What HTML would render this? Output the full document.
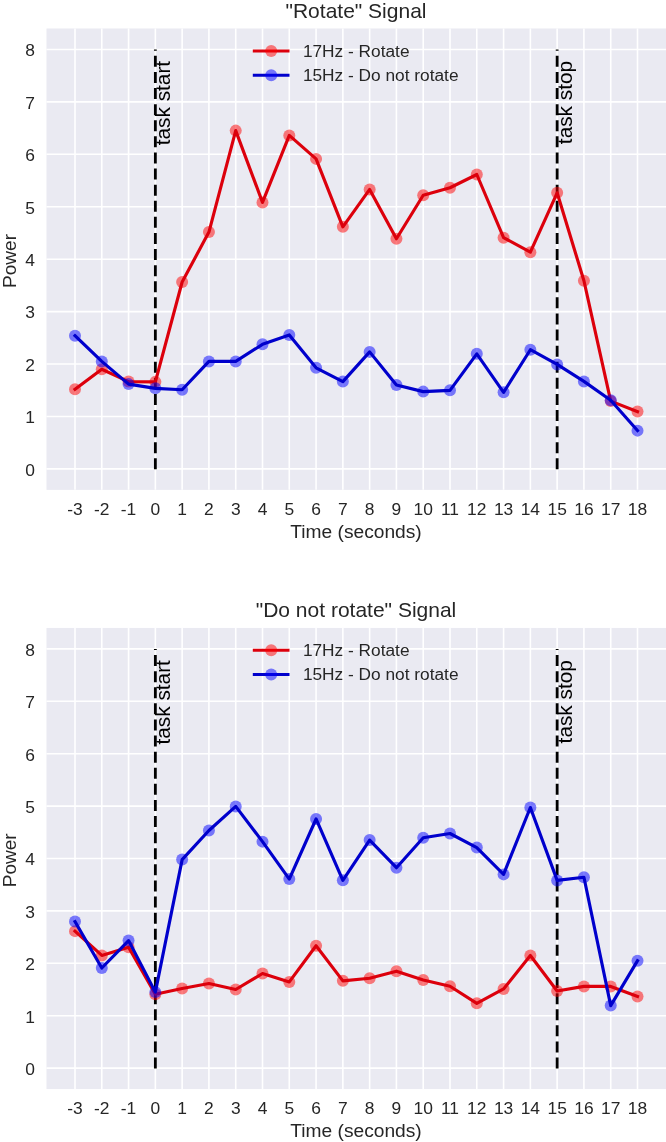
<!DOCTYPE html>
<html><head><meta charset="utf-8"><title>Rotate Signal</title>
<style>html,body{margin:0;padding:0;background:#fff;width:666px;height:1142px;overflow:hidden}</style>
</head><body>
<svg width="666" height="1142" viewBox="0 0 666 1142" style="display:block;will-change:transform">
<rect x="0" y="0" width="666" height="1142" fill="#ffffff"/>
<g>
<rect x="46.5" y="28.49" width="619.5" height="461.38" fill="#eaeaf2"/>
<line x1="75.00" y1="28.49" x2="75.00" y2="489.87" stroke="#fff" stroke-width="1.6"/>
<line x1="101.79" y1="28.49" x2="101.79" y2="489.87" stroke="#fff" stroke-width="1.6"/>
<line x1="128.57" y1="28.49" x2="128.57" y2="489.87" stroke="#fff" stroke-width="1.6"/>
<line x1="155.36" y1="28.49" x2="155.36" y2="489.87" stroke="#fff" stroke-width="1.6"/>
<line x1="182.14" y1="28.49" x2="182.14" y2="489.87" stroke="#fff" stroke-width="1.6"/>
<line x1="208.93" y1="28.49" x2="208.93" y2="489.87" stroke="#fff" stroke-width="1.6"/>
<line x1="235.72" y1="28.49" x2="235.72" y2="489.87" stroke="#fff" stroke-width="1.6"/>
<line x1="262.50" y1="28.49" x2="262.50" y2="489.87" stroke="#fff" stroke-width="1.6"/>
<line x1="289.29" y1="28.49" x2="289.29" y2="489.87" stroke="#fff" stroke-width="1.6"/>
<line x1="316.07" y1="28.49" x2="316.07" y2="489.87" stroke="#fff" stroke-width="1.6"/>
<line x1="342.86" y1="28.49" x2="342.86" y2="489.87" stroke="#fff" stroke-width="1.6"/>
<line x1="369.65" y1="28.49" x2="369.65" y2="489.87" stroke="#fff" stroke-width="1.6"/>
<line x1="396.43" y1="28.49" x2="396.43" y2="489.87" stroke="#fff" stroke-width="1.6"/>
<line x1="423.22" y1="28.49" x2="423.22" y2="489.87" stroke="#fff" stroke-width="1.6"/>
<line x1="450.00" y1="28.49" x2="450.00" y2="489.87" stroke="#fff" stroke-width="1.6"/>
<line x1="476.79" y1="28.49" x2="476.79" y2="489.87" stroke="#fff" stroke-width="1.6"/>
<line x1="503.58" y1="28.49" x2="503.58" y2="489.87" stroke="#fff" stroke-width="1.6"/>
<line x1="530.36" y1="28.49" x2="530.36" y2="489.87" stroke="#fff" stroke-width="1.6"/>
<line x1="557.15" y1="28.49" x2="557.15" y2="489.87" stroke="#fff" stroke-width="1.6"/>
<line x1="583.93" y1="28.49" x2="583.93" y2="489.87" stroke="#fff" stroke-width="1.6"/>
<line x1="610.72" y1="28.49" x2="610.72" y2="489.87" stroke="#fff" stroke-width="1.6"/>
<line x1="637.51" y1="28.49" x2="637.51" y2="489.87" stroke="#fff" stroke-width="1.6"/>
<line x1="46.5" y1="468.90" x2="666" y2="468.90" stroke="#fff" stroke-width="1.6"/>
<line x1="46.5" y1="416.47" x2="666" y2="416.47" stroke="#fff" stroke-width="1.6"/>
<line x1="46.5" y1="364.04" x2="666" y2="364.04" stroke="#fff" stroke-width="1.6"/>
<line x1="46.5" y1="311.61" x2="666" y2="311.61" stroke="#fff" stroke-width="1.6"/>
<line x1="46.5" y1="259.18" x2="666" y2="259.18" stroke="#fff" stroke-width="1.6"/>
<line x1="46.5" y1="206.75" x2="666" y2="206.75" stroke="#fff" stroke-width="1.6"/>
<line x1="46.5" y1="154.32" x2="666" y2="154.32" stroke="#fff" stroke-width="1.6"/>
<line x1="46.5" y1="101.89" x2="666" y2="101.89" stroke="#fff" stroke-width="1.6"/>
<line x1="46.5" y1="49.46" x2="666" y2="49.46" stroke="#fff" stroke-width="1.6"/>
<line x1="155.36" y1="469.35" x2="155.36" y2="49.46" stroke="#000" stroke-width="2.8" stroke-dasharray="11 5.1"/>
<line x1="557.15" y1="469.35" x2="557.15" y2="49.46" stroke="#000" stroke-width="2.8" stroke-dasharray="11 5.1"/>
<circle cx="75.00" cy="389.21" r="6.0" fill="#ff0000" fill-opacity="0.5"/>
<circle cx="101.79" cy="369.28" r="6.0" fill="#ff0000" fill-opacity="0.5"/>
<circle cx="128.57" cy="381.60" r="6.0" fill="#ff0000" fill-opacity="0.5"/>
<circle cx="155.36" cy="381.87" r="6.0" fill="#ff0000" fill-opacity="0.5"/>
<circle cx="182.14" cy="281.99" r="6.0" fill="#ff0000" fill-opacity="0.5"/>
<circle cx="208.93" cy="232.07" r="6.0" fill="#ff0000" fill-opacity="0.5"/>
<circle cx="235.72" cy="130.62" r="6.0" fill="#ff0000" fill-opacity="0.5"/>
<circle cx="262.50" cy="202.40" r="6.0" fill="#ff0000" fill-opacity="0.5"/>
<circle cx="289.29" cy="135.39" r="6.0" fill="#ff0000" fill-opacity="0.5"/>
<circle cx="316.07" cy="158.88" r="6.0" fill="#ff0000" fill-opacity="0.5"/>
<circle cx="342.86" cy="226.83" r="6.0" fill="#ff0000" fill-opacity="0.5"/>
<circle cx="369.65" cy="189.45" r="6.0" fill="#ff0000" fill-opacity="0.5"/>
<circle cx="396.43" cy="238.73" r="6.0" fill="#ff0000" fill-opacity="0.5"/>
<circle cx="423.22" cy="195.22" r="6.0" fill="#ff0000" fill-opacity="0.5"/>
<circle cx="450.00" cy="187.72" r="6.0" fill="#ff0000" fill-opacity="0.5"/>
<circle cx="476.79" cy="174.51" r="6.0" fill="#ff0000" fill-opacity="0.5"/>
<circle cx="503.58" cy="237.68" r="6.0" fill="#ff0000" fill-opacity="0.5"/>
<circle cx="530.36" cy="252.21" r="6.0" fill="#ff0000" fill-opacity="0.5"/>
<circle cx="557.15" cy="192.80" r="6.0" fill="#ff0000" fill-opacity="0.5"/>
<circle cx="583.93" cy="280.78" r="6.0" fill="#ff0000" fill-opacity="0.5"/>
<circle cx="610.72" cy="401.11" r="6.0" fill="#ff0000" fill-opacity="0.5"/>
<circle cx="637.51" cy="411.59" r="6.0" fill="#ff0000" fill-opacity="0.5"/>
<path d="M75.00,389.21 L101.79,369.28 L128.57,381.60 L155.36,381.87 L182.14,281.99 L208.93,232.07 L235.72,130.62 L262.50,202.40 L289.29,135.39 L316.07,158.88 L342.86,226.83 L369.65,189.45 L396.43,238.73 L423.22,195.22 L450.00,187.72 L476.79,174.51 L503.58,237.68 L530.36,252.21 L557.15,192.80 L583.93,280.78 L610.72,401.11 L637.51,411.59" fill="none" stroke="#dc000c" stroke-width="3.15" stroke-linejoin="round" stroke-linecap="square"/>
<circle cx="75.00" cy="335.73" r="6.0" fill="#0000ff" fill-opacity="0.5"/>
<circle cx="101.79" cy="361.42" r="6.0" fill="#0000ff" fill-opacity="0.5"/>
<circle cx="128.57" cy="384.12" r="6.0" fill="#0000ff" fill-opacity="0.5"/>
<circle cx="155.36" cy="388.32" r="6.0" fill="#0000ff" fill-opacity="0.5"/>
<circle cx="182.14" cy="389.78" r="6.0" fill="#0000ff" fill-opacity="0.5"/>
<circle cx="208.93" cy="361.42" r="6.0" fill="#0000ff" fill-opacity="0.5"/>
<circle cx="235.72" cy="361.42" r="6.0" fill="#0000ff" fill-opacity="0.5"/>
<circle cx="262.50" cy="344.33" r="6.0" fill="#0000ff" fill-opacity="0.5"/>
<circle cx="289.29" cy="334.89" r="6.0" fill="#0000ff" fill-opacity="0.5"/>
<circle cx="316.07" cy="367.81" r="6.0" fill="#0000ff" fill-opacity="0.5"/>
<circle cx="342.86" cy="381.60" r="6.0" fill="#0000ff" fill-opacity="0.5"/>
<circle cx="369.65" cy="351.88" r="6.0" fill="#0000ff" fill-opacity="0.5"/>
<circle cx="396.43" cy="384.91" r="6.0" fill="#0000ff" fill-opacity="0.5"/>
<circle cx="423.22" cy="391.62" r="6.0" fill="#0000ff" fill-opacity="0.5"/>
<circle cx="450.00" cy="390.31" r="6.0" fill="#0000ff" fill-opacity="0.5"/>
<circle cx="476.79" cy="353.82" r="6.0" fill="#0000ff" fill-opacity="0.5"/>
<circle cx="503.58" cy="392.35" r="6.0" fill="#0000ff" fill-opacity="0.5"/>
<circle cx="530.36" cy="349.73" r="6.0" fill="#0000ff" fill-opacity="0.5"/>
<circle cx="557.15" cy="364.41" r="6.0" fill="#0000ff" fill-opacity="0.5"/>
<circle cx="583.93" cy="381.39" r="6.0" fill="#0000ff" fill-opacity="0.5"/>
<circle cx="610.72" cy="400.32" r="6.0" fill="#0000ff" fill-opacity="0.5"/>
<circle cx="637.51" cy="430.63" r="6.0" fill="#0000ff" fill-opacity="0.5"/>
<path d="M75.00,335.73 L101.79,361.42 L128.57,384.12 L155.36,388.32 L182.14,389.78 L208.93,361.42 L235.72,361.42 L262.50,344.33 L289.29,334.89 L316.07,367.81 L342.86,381.60 L369.65,351.88 L396.43,384.91 L423.22,391.62 L450.00,390.31 L476.79,353.82 L503.58,392.35 L530.36,349.73 L557.15,364.41 L583.93,381.39 L610.72,400.32 L637.51,430.63" fill="none" stroke="#0000cc" stroke-width="3.15" stroke-linejoin="round" stroke-linecap="square"/>
<text transform="translate(170.36,60.90) rotate(-90)" text-anchor="end" font-family='"Liberation Sans", sans-serif' font-size="20.8" fill="#000">task start</text>
<text transform="translate(572.15,60.90) rotate(-90)" text-anchor="end" font-family='"Liberation Sans", sans-serif' font-size="20.8" fill="#000">task stop</text>
<line x1="252.8" y1="51.00" x2="289.5" y2="51.00" stroke="#dc000c" stroke-width="3"/>
<circle cx="271.2" cy="51.00" r="6.0" fill="#ff0000" fill-opacity="0.5"/>
<text x="302.9" y="56.90" font-family='"Liberation Sans", sans-serif' font-size="17.3" fill="#262626">17Hz - Rotate</text>
<line x1="252.8" y1="75.30" x2="289.5" y2="75.30" stroke="#0000cc" stroke-width="3"/>
<circle cx="271.2" cy="75.30" r="6.0" fill="#0000ff" fill-opacity="0.5"/>
<text x="302.9" y="81.20" font-family='"Liberation Sans", sans-serif' font-size="17.3" fill="#262626">15Hz - Do not rotate</text>
<text x="75.00" y="514.60" text-anchor="middle" font-family='"Liberation Sans", sans-serif' font-size="17.4" fill="#262626">-3</text>
<text x="101.79" y="514.60" text-anchor="middle" font-family='"Liberation Sans", sans-serif' font-size="17.4" fill="#262626">-2</text>
<text x="128.57" y="514.60" text-anchor="middle" font-family='"Liberation Sans", sans-serif' font-size="17.4" fill="#262626">-1</text>
<text x="155.36" y="514.60" text-anchor="middle" font-family='"Liberation Sans", sans-serif' font-size="17.4" fill="#262626">0</text>
<text x="182.14" y="514.60" text-anchor="middle" font-family='"Liberation Sans", sans-serif' font-size="17.4" fill="#262626">1</text>
<text x="208.93" y="514.60" text-anchor="middle" font-family='"Liberation Sans", sans-serif' font-size="17.4" fill="#262626">2</text>
<text x="235.72" y="514.60" text-anchor="middle" font-family='"Liberation Sans", sans-serif' font-size="17.4" fill="#262626">3</text>
<text x="262.50" y="514.60" text-anchor="middle" font-family='"Liberation Sans", sans-serif' font-size="17.4" fill="#262626">4</text>
<text x="289.29" y="514.60" text-anchor="middle" font-family='"Liberation Sans", sans-serif' font-size="17.4" fill="#262626">5</text>
<text x="316.07" y="514.60" text-anchor="middle" font-family='"Liberation Sans", sans-serif' font-size="17.4" fill="#262626">6</text>
<text x="342.86" y="514.60" text-anchor="middle" font-family='"Liberation Sans", sans-serif' font-size="17.4" fill="#262626">7</text>
<text x="369.65" y="514.60" text-anchor="middle" font-family='"Liberation Sans", sans-serif' font-size="17.4" fill="#262626">8</text>
<text x="396.43" y="514.60" text-anchor="middle" font-family='"Liberation Sans", sans-serif' font-size="17.4" fill="#262626">9</text>
<text x="423.22" y="514.60" text-anchor="middle" font-family='"Liberation Sans", sans-serif' font-size="17.4" fill="#262626">10</text>
<text x="450.00" y="514.60" text-anchor="middle" font-family='"Liberation Sans", sans-serif' font-size="17.4" fill="#262626">11</text>
<text x="476.79" y="514.60" text-anchor="middle" font-family='"Liberation Sans", sans-serif' font-size="17.4" fill="#262626">12</text>
<text x="503.58" y="514.60" text-anchor="middle" font-family='"Liberation Sans", sans-serif' font-size="17.4" fill="#262626">13</text>
<text x="530.36" y="514.60" text-anchor="middle" font-family='"Liberation Sans", sans-serif' font-size="17.4" fill="#262626">14</text>
<text x="557.15" y="514.60" text-anchor="middle" font-family='"Liberation Sans", sans-serif' font-size="17.4" fill="#262626">15</text>
<text x="583.93" y="514.60" text-anchor="middle" font-family='"Liberation Sans", sans-serif' font-size="17.4" fill="#262626">16</text>
<text x="610.72" y="514.60" text-anchor="middle" font-family='"Liberation Sans", sans-serif' font-size="17.4" fill="#262626">17</text>
<text x="637.51" y="514.60" text-anchor="middle" font-family='"Liberation Sans", sans-serif' font-size="17.4" fill="#262626">18</text>
<text x="35.0" y="475.70" text-anchor="end" font-family='"Liberation Sans", sans-serif' font-size="17.4" fill="#262626">0</text>
<text x="35.0" y="423.27" text-anchor="end" font-family='"Liberation Sans", sans-serif' font-size="17.4" fill="#262626">1</text>
<text x="35.0" y="370.84" text-anchor="end" font-family='"Liberation Sans", sans-serif' font-size="17.4" fill="#262626">2</text>
<text x="35.0" y="318.41" text-anchor="end" font-family='"Liberation Sans", sans-serif' font-size="17.4" fill="#262626">3</text>
<text x="35.0" y="265.98" text-anchor="end" font-family='"Liberation Sans", sans-serif' font-size="17.4" fill="#262626">4</text>
<text x="35.0" y="213.55" text-anchor="end" font-family='"Liberation Sans", sans-serif' font-size="17.4" fill="#262626">5</text>
<text x="35.0" y="161.12" text-anchor="end" font-family='"Liberation Sans", sans-serif' font-size="17.4" fill="#262626">6</text>
<text x="35.0" y="108.69" text-anchor="end" font-family='"Liberation Sans", sans-serif' font-size="17.4" fill="#262626">7</text>
<text x="35.0" y="56.26" text-anchor="end" font-family='"Liberation Sans", sans-serif' font-size="17.4" fill="#262626">8</text>
<text x="356" y="538.20" text-anchor="middle" font-family='"Liberation Sans", sans-serif' font-size="19.2" fill="#262626">Time (seconds)</text>
<text transform="translate(15.6,260.98) rotate(-90)" text-anchor="middle" font-family='"Liberation Sans", sans-serif' font-size="19" fill="#262626">Power</text>
<text x="356" y="17.80" text-anchor="middle" font-family='"Liberation Sans", sans-serif' font-size="21" fill="#262626">"Rotate" Signal</text>
</g>
<g>
<rect x="46.5" y="627.94" width="619.5" height="461.12" fill="#eaeaf2"/>
<line x1="75.00" y1="627.94" x2="75.00" y2="1089.06" stroke="#fff" stroke-width="1.6"/>
<line x1="101.79" y1="627.94" x2="101.79" y2="1089.06" stroke="#fff" stroke-width="1.6"/>
<line x1="128.57" y1="627.94" x2="128.57" y2="1089.06" stroke="#fff" stroke-width="1.6"/>
<line x1="155.36" y1="627.94" x2="155.36" y2="1089.06" stroke="#fff" stroke-width="1.6"/>
<line x1="182.14" y1="627.94" x2="182.14" y2="1089.06" stroke="#fff" stroke-width="1.6"/>
<line x1="208.93" y1="627.94" x2="208.93" y2="1089.06" stroke="#fff" stroke-width="1.6"/>
<line x1="235.72" y1="627.94" x2="235.72" y2="1089.06" stroke="#fff" stroke-width="1.6"/>
<line x1="262.50" y1="627.94" x2="262.50" y2="1089.06" stroke="#fff" stroke-width="1.6"/>
<line x1="289.29" y1="627.94" x2="289.29" y2="1089.06" stroke="#fff" stroke-width="1.6"/>
<line x1="316.07" y1="627.94" x2="316.07" y2="1089.06" stroke="#fff" stroke-width="1.6"/>
<line x1="342.86" y1="627.94" x2="342.86" y2="1089.06" stroke="#fff" stroke-width="1.6"/>
<line x1="369.65" y1="627.94" x2="369.65" y2="1089.06" stroke="#fff" stroke-width="1.6"/>
<line x1="396.43" y1="627.94" x2="396.43" y2="1089.06" stroke="#fff" stroke-width="1.6"/>
<line x1="423.22" y1="627.94" x2="423.22" y2="1089.06" stroke="#fff" stroke-width="1.6"/>
<line x1="450.00" y1="627.94" x2="450.00" y2="1089.06" stroke="#fff" stroke-width="1.6"/>
<line x1="476.79" y1="627.94" x2="476.79" y2="1089.06" stroke="#fff" stroke-width="1.6"/>
<line x1="503.58" y1="627.94" x2="503.58" y2="1089.06" stroke="#fff" stroke-width="1.6"/>
<line x1="530.36" y1="627.94" x2="530.36" y2="1089.06" stroke="#fff" stroke-width="1.6"/>
<line x1="557.15" y1="627.94" x2="557.15" y2="1089.06" stroke="#fff" stroke-width="1.6"/>
<line x1="583.93" y1="627.94" x2="583.93" y2="1089.06" stroke="#fff" stroke-width="1.6"/>
<line x1="610.72" y1="627.94" x2="610.72" y2="1089.06" stroke="#fff" stroke-width="1.6"/>
<line x1="637.51" y1="627.94" x2="637.51" y2="1089.06" stroke="#fff" stroke-width="1.6"/>
<line x1="46.5" y1="1068.10" x2="666" y2="1068.10" stroke="#fff" stroke-width="1.6"/>
<line x1="46.5" y1="1015.70" x2="666" y2="1015.70" stroke="#fff" stroke-width="1.6"/>
<line x1="46.5" y1="963.30" x2="666" y2="963.30" stroke="#fff" stroke-width="1.6"/>
<line x1="46.5" y1="910.90" x2="666" y2="910.90" stroke="#fff" stroke-width="1.6"/>
<line x1="46.5" y1="858.50" x2="666" y2="858.50" stroke="#fff" stroke-width="1.6"/>
<line x1="46.5" y1="806.10" x2="666" y2="806.10" stroke="#fff" stroke-width="1.6"/>
<line x1="46.5" y1="753.70" x2="666" y2="753.70" stroke="#fff" stroke-width="1.6"/>
<line x1="46.5" y1="701.30" x2="666" y2="701.30" stroke="#fff" stroke-width="1.6"/>
<line x1="46.5" y1="648.90" x2="666" y2="648.90" stroke="#fff" stroke-width="1.6"/>
<line x1="155.36" y1="1068.55" x2="155.36" y2="648.90" stroke="#000" stroke-width="2.8" stroke-dasharray="11 5.1"/>
<line x1="557.15" y1="1068.55" x2="557.15" y2="648.90" stroke="#000" stroke-width="2.8" stroke-dasharray="11 5.1"/>
<circle cx="75.00" cy="931.13" r="6.0" fill="#ff0000" fill-opacity="0.5"/>
<circle cx="101.79" cy="955.39" r="6.0" fill="#ff0000" fill-opacity="0.5"/>
<circle cx="128.57" cy="947.21" r="6.0" fill="#ff0000" fill-opacity="0.5"/>
<circle cx="155.36" cy="994.22" r="6.0" fill="#ff0000" fill-opacity="0.5"/>
<circle cx="182.14" cy="988.45" r="6.0" fill="#ff0000" fill-opacity="0.5"/>
<circle cx="208.93" cy="983.47" r="6.0" fill="#ff0000" fill-opacity="0.5"/>
<circle cx="235.72" cy="989.50" r="6.0" fill="#ff0000" fill-opacity="0.5"/>
<circle cx="262.50" cy="973.52" r="6.0" fill="#ff0000" fill-opacity="0.5"/>
<circle cx="289.29" cy="981.90" r="6.0" fill="#ff0000" fill-opacity="0.5"/>
<circle cx="316.07" cy="945.75" r="6.0" fill="#ff0000" fill-opacity="0.5"/>
<circle cx="342.86" cy="980.85" r="6.0" fill="#ff0000" fill-opacity="0.5"/>
<circle cx="369.65" cy="978.23" r="6.0" fill="#ff0000" fill-opacity="0.5"/>
<circle cx="396.43" cy="971.16" r="6.0" fill="#ff0000" fill-opacity="0.5"/>
<circle cx="423.22" cy="980.07" r="6.0" fill="#ff0000" fill-opacity="0.5"/>
<circle cx="450.00" cy="986.25" r="6.0" fill="#ff0000" fill-opacity="0.5"/>
<circle cx="476.79" cy="1003.33" r="6.0" fill="#ff0000" fill-opacity="0.5"/>
<circle cx="503.58" cy="988.98" r="6.0" fill="#ff0000" fill-opacity="0.5"/>
<circle cx="530.36" cy="955.44" r="6.0" fill="#ff0000" fill-opacity="0.5"/>
<circle cx="557.15" cy="991.07" r="6.0" fill="#ff0000" fill-opacity="0.5"/>
<circle cx="583.93" cy="986.41" r="6.0" fill="#ff0000" fill-opacity="0.5"/>
<circle cx="610.72" cy="986.41" r="6.0" fill="#ff0000" fill-opacity="0.5"/>
<circle cx="637.51" cy="996.42" r="6.0" fill="#ff0000" fill-opacity="0.5"/>
<path d="M75.00,931.13 L101.79,955.39 L128.57,947.21 L155.36,994.22 L182.14,988.45 L208.93,983.47 L235.72,989.50 L262.50,973.52 L289.29,981.90 L316.07,945.75 L342.86,980.85 L369.65,978.23 L396.43,971.16 L423.22,980.07 L450.00,986.25 L476.79,1003.33 L503.58,988.98 L530.36,955.44 L557.15,991.07 L583.93,986.41 L610.72,986.41 L637.51,996.42" fill="none" stroke="#dc000c" stroke-width="3.15" stroke-linejoin="round" stroke-linecap="square"/>
<circle cx="75.00" cy="921.59" r="6.0" fill="#0000ff" fill-opacity="0.5"/>
<circle cx="101.79" cy="968.02" r="6.0" fill="#0000ff" fill-opacity="0.5"/>
<circle cx="128.57" cy="940.56" r="6.0" fill="#0000ff" fill-opacity="0.5"/>
<circle cx="155.36" cy="992.12" r="6.0" fill="#0000ff" fill-opacity="0.5"/>
<circle cx="182.14" cy="859.60" r="6.0" fill="#0000ff" fill-opacity="0.5"/>
<circle cx="208.93" cy="830.52" r="6.0" fill="#0000ff" fill-opacity="0.5"/>
<circle cx="235.72" cy="806.41" r="6.0" fill="#0000ff" fill-opacity="0.5"/>
<circle cx="262.50" cy="841.63" r="6.0" fill="#0000ff" fill-opacity="0.5"/>
<circle cx="289.29" cy="879.09" r="6.0" fill="#0000ff" fill-opacity="0.5"/>
<circle cx="316.07" cy="818.99" r="6.0" fill="#0000ff" fill-opacity="0.5"/>
<circle cx="342.86" cy="880.30" r="6.0" fill="#0000ff" fill-opacity="0.5"/>
<circle cx="369.65" cy="840.11" r="6.0" fill="#0000ff" fill-opacity="0.5"/>
<circle cx="396.43" cy="867.72" r="6.0" fill="#0000ff" fill-opacity="0.5"/>
<circle cx="423.22" cy="837.70" r="6.0" fill="#0000ff" fill-opacity="0.5"/>
<circle cx="450.00" cy="833.51" r="6.0" fill="#0000ff" fill-opacity="0.5"/>
<circle cx="476.79" cy="847.60" r="6.0" fill="#0000ff" fill-opacity="0.5"/>
<circle cx="503.58" cy="874.38" r="6.0" fill="#0000ff" fill-opacity="0.5"/>
<circle cx="530.36" cy="807.51" r="6.0" fill="#0000ff" fill-opacity="0.5"/>
<circle cx="557.15" cy="880.40" r="6.0" fill="#0000ff" fill-opacity="0.5"/>
<circle cx="583.93" cy="877.21" r="6.0" fill="#0000ff" fill-opacity="0.5"/>
<circle cx="610.72" cy="1005.59" r="6.0" fill="#0000ff" fill-opacity="0.5"/>
<circle cx="637.51" cy="960.68" r="6.0" fill="#0000ff" fill-opacity="0.5"/>
<path d="M75.00,921.59 L101.79,968.02 L128.57,940.56 L155.36,992.12 L182.14,859.60 L208.93,830.52 L235.72,806.41 L262.50,841.63 L289.29,879.09 L316.07,818.99 L342.86,880.30 L369.65,840.11 L396.43,867.72 L423.22,837.70 L450.00,833.51 L476.79,847.60 L503.58,874.38 L530.36,807.51 L557.15,880.40 L583.93,877.21 L610.72,1005.59 L637.51,960.68" fill="none" stroke="#0000cc" stroke-width="3.15" stroke-linejoin="round" stroke-linecap="square"/>
<text transform="translate(170.36,660.15) rotate(-90)" text-anchor="end" font-family='"Liberation Sans", sans-serif' font-size="20.8" fill="#000">task start</text>
<text transform="translate(572.15,660.15) rotate(-90)" text-anchor="end" font-family='"Liberation Sans", sans-serif' font-size="20.8" fill="#000">task stop</text>
<line x1="252.8" y1="650.25" x2="289.5" y2="650.25" stroke="#dc000c" stroke-width="3"/>
<circle cx="271.2" cy="650.25" r="6.0" fill="#ff0000" fill-opacity="0.5"/>
<text x="302.9" y="656.15" font-family='"Liberation Sans", sans-serif' font-size="17.3" fill="#262626">17Hz - Rotate</text>
<line x1="252.8" y1="674.55" x2="289.5" y2="674.55" stroke="#0000cc" stroke-width="3"/>
<circle cx="271.2" cy="674.55" r="6.0" fill="#0000ff" fill-opacity="0.5"/>
<text x="302.9" y="680.45" font-family='"Liberation Sans", sans-serif' font-size="17.3" fill="#262626">15Hz - Do not rotate</text>
<text x="75.00" y="1113.85" text-anchor="middle" font-family='"Liberation Sans", sans-serif' font-size="17.4" fill="#262626">-3</text>
<text x="101.79" y="1113.85" text-anchor="middle" font-family='"Liberation Sans", sans-serif' font-size="17.4" fill="#262626">-2</text>
<text x="128.57" y="1113.85" text-anchor="middle" font-family='"Liberation Sans", sans-serif' font-size="17.4" fill="#262626">-1</text>
<text x="155.36" y="1113.85" text-anchor="middle" font-family='"Liberation Sans", sans-serif' font-size="17.4" fill="#262626">0</text>
<text x="182.14" y="1113.85" text-anchor="middle" font-family='"Liberation Sans", sans-serif' font-size="17.4" fill="#262626">1</text>
<text x="208.93" y="1113.85" text-anchor="middle" font-family='"Liberation Sans", sans-serif' font-size="17.4" fill="#262626">2</text>
<text x="235.72" y="1113.85" text-anchor="middle" font-family='"Liberation Sans", sans-serif' font-size="17.4" fill="#262626">3</text>
<text x="262.50" y="1113.85" text-anchor="middle" font-family='"Liberation Sans", sans-serif' font-size="17.4" fill="#262626">4</text>
<text x="289.29" y="1113.85" text-anchor="middle" font-family='"Liberation Sans", sans-serif' font-size="17.4" fill="#262626">5</text>
<text x="316.07" y="1113.85" text-anchor="middle" font-family='"Liberation Sans", sans-serif' font-size="17.4" fill="#262626">6</text>
<text x="342.86" y="1113.85" text-anchor="middle" font-family='"Liberation Sans", sans-serif' font-size="17.4" fill="#262626">7</text>
<text x="369.65" y="1113.85" text-anchor="middle" font-family='"Liberation Sans", sans-serif' font-size="17.4" fill="#262626">8</text>
<text x="396.43" y="1113.85" text-anchor="middle" font-family='"Liberation Sans", sans-serif' font-size="17.4" fill="#262626">9</text>
<text x="423.22" y="1113.85" text-anchor="middle" font-family='"Liberation Sans", sans-serif' font-size="17.4" fill="#262626">10</text>
<text x="450.00" y="1113.85" text-anchor="middle" font-family='"Liberation Sans", sans-serif' font-size="17.4" fill="#262626">11</text>
<text x="476.79" y="1113.85" text-anchor="middle" font-family='"Liberation Sans", sans-serif' font-size="17.4" fill="#262626">12</text>
<text x="503.58" y="1113.85" text-anchor="middle" font-family='"Liberation Sans", sans-serif' font-size="17.4" fill="#262626">13</text>
<text x="530.36" y="1113.85" text-anchor="middle" font-family='"Liberation Sans", sans-serif' font-size="17.4" fill="#262626">14</text>
<text x="557.15" y="1113.85" text-anchor="middle" font-family='"Liberation Sans", sans-serif' font-size="17.4" fill="#262626">15</text>
<text x="583.93" y="1113.85" text-anchor="middle" font-family='"Liberation Sans", sans-serif' font-size="17.4" fill="#262626">16</text>
<text x="610.72" y="1113.85" text-anchor="middle" font-family='"Liberation Sans", sans-serif' font-size="17.4" fill="#262626">17</text>
<text x="637.51" y="1113.85" text-anchor="middle" font-family='"Liberation Sans", sans-serif' font-size="17.4" fill="#262626">18</text>
<text x="35.0" y="1074.90" text-anchor="end" font-family='"Liberation Sans", sans-serif' font-size="17.4" fill="#262626">0</text>
<text x="35.0" y="1022.50" text-anchor="end" font-family='"Liberation Sans", sans-serif' font-size="17.4" fill="#262626">1</text>
<text x="35.0" y="970.10" text-anchor="end" font-family='"Liberation Sans", sans-serif' font-size="17.4" fill="#262626">2</text>
<text x="35.0" y="917.70" text-anchor="end" font-family='"Liberation Sans", sans-serif' font-size="17.4" fill="#262626">3</text>
<text x="35.0" y="865.30" text-anchor="end" font-family='"Liberation Sans", sans-serif' font-size="17.4" fill="#262626">4</text>
<text x="35.0" y="812.90" text-anchor="end" font-family='"Liberation Sans", sans-serif' font-size="17.4" fill="#262626">5</text>
<text x="35.0" y="760.50" text-anchor="end" font-family='"Liberation Sans", sans-serif' font-size="17.4" fill="#262626">6</text>
<text x="35.0" y="708.10" text-anchor="end" font-family='"Liberation Sans", sans-serif' font-size="17.4" fill="#262626">7</text>
<text x="35.0" y="655.70" text-anchor="end" font-family='"Liberation Sans", sans-serif' font-size="17.4" fill="#262626">8</text>
<text x="356" y="1137.45" text-anchor="middle" font-family='"Liberation Sans", sans-serif' font-size="19.2" fill="#262626">Time (seconds)</text>
<text transform="translate(15.6,860.30) rotate(-90)" text-anchor="middle" font-family='"Liberation Sans", sans-serif' font-size="19" fill="#262626">Power</text>
<text x="356" y="617.05" text-anchor="middle" font-family='"Liberation Sans", sans-serif' font-size="21" fill="#262626">"Do not rotate" Signal</text>
</g>
</svg>
</body></html>
